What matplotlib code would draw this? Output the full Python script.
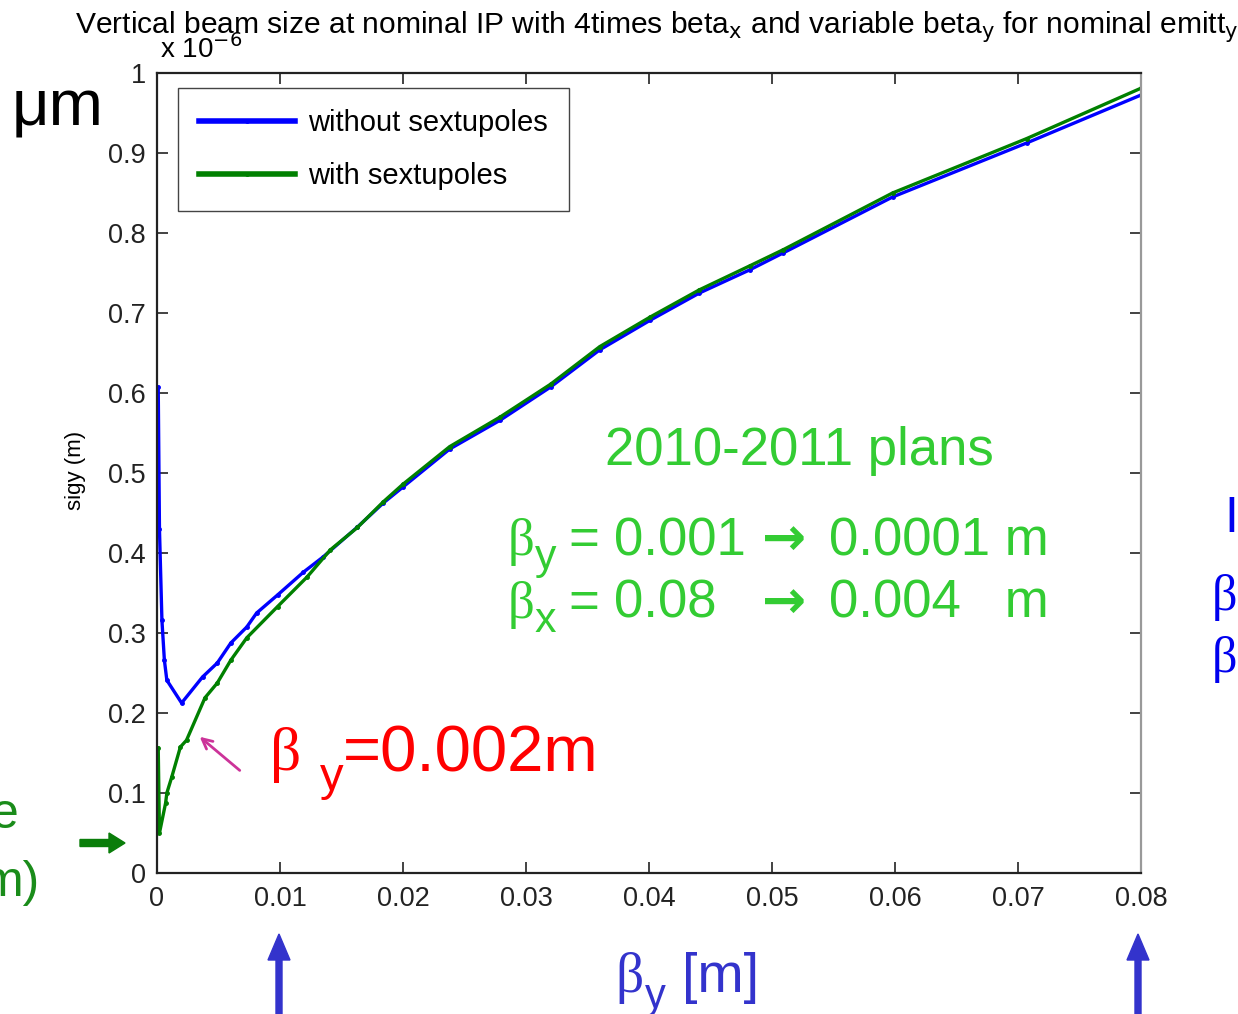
import matplotlib.pyplot as plt

plt.rcParams['font.family'] = ['Liberation Sans', 'DejaVu Sans']

# data (sigy in units of 1e-6 m)
beta_blue = [0.0001, 0.0002, 0.0004, 0.0006, 0.0008, 0.002, 0.0037, 0.0049,
             0.006, 0.0073, 0.0081, 0.0098, 0.0119, 0.0135, 0.0163, 0.0184,
             0.02, 0.0238, 0.0279, 0.032, 0.036, 0.0401, 0.0441, 0.0482,
             0.0509, 0.0598, 0.0707, 0.08]
sigy_blue = [0.607, 0.43, 0.316, 0.266, 0.241, 0.2125, 0.245, 0.2625,
             0.2875, 0.3075, 0.325, 0.3475, 0.376, 0.395, 0.4325, 0.4625,
             0.4825, 0.53, 0.566, 0.6075, 0.654, 0.691, 0.725, 0.754,
             0.775, 0.845, 0.9125, 0.9725]

beta_green = [0.0001, 0.0002, 0.0007, 0.0008, 0.0012, 0.0019, 0.0024, 0.0039,
              0.0049, 0.006, 0.0073, 0.0098, 0.0122, 0.0141, 0.0163, 0.0184,
              0.02, 0.0238, 0.0279, 0.032, 0.036, 0.0401, 0.0441, 0.0482,
              0.0509, 0.0598, 0.0707, 0.08]
sigy_green = [0.156, 0.05, 0.0875, 0.1, 0.12, 0.1575, 0.166, 0.219,
              0.2375, 0.266, 0.294, 0.333, 0.37, 0.404, 0.432, 0.464,
              0.486, 0.533, 0.57, 0.611, 0.658, 0.695, 0.729, 0.759,
              0.779, 0.85, 0.918, 0.981]

xticks = [0, 0.01, 0.02, 0.03, 0.04, 0.05, 0.06, 0.07, 0.08]
xticklabels = ['0', '0.01', '0.02', '0.03', '0.04', '0.05', '0.06', '0.07', '0.08']
yticks = [0, 0.1, 0.2, 0.3, 0.4, 0.5, 0.6, 0.7, 0.8, 0.9, 1]
yticklabels = ['0', '0.1', '0.2', '0.3', '0.4', '0.5', '0.6', '0.7', '0.8', '0.9', '1']

W, H = 1238, 1014


def px(x, y):
    return x / W, 1 - y / H


fig = plt.figure(figsize=(W / 100, H / 100), dpi=100)
ax = fig.add_axes([157 / W, 141 / H, 984 / W, 800 / H])

ax.plot(beta_blue, sigy_blue, color='#0000ff', lw=2.4, marker='.', ms=5,
        label='without sextupoles')
ax.plot(beta_green, sigy_green, color='#008000', lw=2.4, marker='.', ms=5,
        label='with sextupoles')

ax.set_xlim(0, 0.08)
ax.set_ylim(0, 1)
ax.set_xticks(xticks)
ax.set_xticklabels(xticklabels)
ax.set_yticks(yticks)
ax.set_yticklabels(yticklabels)
ax.tick_params(direction='in', length=8, width=1.2, labelsize=19.5,
               top=True, right=True, colors='#222222')
ax.tick_params(axis='x', pad=9)
ax.tick_params(axis='y', pad=8)
for s in ['left', 'top', 'bottom']:
    ax.spines[s].set_linewidth(1.6)
    ax.spines[s].set_color('#222222')
ax.spines['right'].set_color('#999999')
ax.spines['right'].set_linewidth(1.6)

leg = ax.legend(loc='upper left', bbox_to_anchor=(0.0213, 0.981),
                borderaxespad=0, fontsize=21, handlelength=3.3,
                handletextpad=0.45, labelspacing=0.85, borderpad=0.72,
                fancybox=False, framealpha=1, edgecolor='#444444')
for line in leg.get_lines():
    line.set_linewidth(4)

# title and axis texts
fig.text(*px(75, 33), r'Vertical beam size at nominal IP with 4times beta$_{\mathrm{x}}$'
         r' and variable beta$_{\mathrm{y}}$ for nominal emitt$_{\mathrm{y}}$',
         fontsize=21.6, va='baseline', ha='left')
fig.text(*px(160, 58), r'x 10$^{-6}$', fontsize=20, va='baseline', ha='left')
fig.text(*px(12, 126), 'μm', fontsize=47, va='baseline', ha='left')
fig.text(*px(76, 470), 'sigy (m)', fontsize=16, rotation=90,
         va='center', ha='center')

# green plans annotation
green = '#33cc33'
fig.text(*px(799, 465), '2010-2011 plans', fontsize=38, color=green,
         ha='center', va='baseline')
for row_y, sub, v1, v2 in [(555, 'y', '0.001', '0.0001 m'),
                           (618, 'x', '0.08', '0.004   m')]:
    fig.text(*px(508, row_y), 'β', fontsize=38, color=green,
             family='Liberation Serif', va='baseline')
    fig.text(*px(535, row_y + 14), sub, fontsize=31, color=green, va='baseline')
    fig.text(*px(568, row_y), '=', fontsize=38, color=green, va='baseline')
    fig.text(*px(614, row_y), v1, fontsize=38, color=green, va='baseline')
    fig.text(*px(762, row_y), '→', fontsize=38, color=green, va='baseline',
             family='DejaVu Sans', weight='bold')
    fig.text(*px(829, row_y), v2, fontsize=38, color=green, va='baseline')

# red beta_y annotation with arrow
fig.text(*px(270, 770), 'β', fontsize=44, color='#ff0000',
         family='Liberation Serif', va='baseline')
fig.text(*px(320, 790), 'y', fontsize=34, color='#ff0000', va='baseline')
fig.text(*px(343, 772), '=0.002m', fontsize=47, color='#ff0000', va='baseline')
ax.annotate('', xy=(0.0033, 0.1725), xytext=(0.0069, 0.126),
            arrowprops=dict(arrowstyle='->', color='#cc3399', lw=2,
                            mutation_scale=18))

# left side clipped annotation
dgreen = '#1a8c1a'
fig.text(*px(19, 828), 'e', fontsize=36, color=dgreen, ha='right', va='baseline')
fig.text(*px(40, 896), 'm)', fontsize=36, color=dgreen, ha='right', va='baseline')
fig.patches.append(plt.matplotlib.patches.FancyArrow(
    80 / W, 1 - 843 / H, 45 / W, 0, width=7 / H, head_width=20 / H,
    head_length=16 / W, length_includes_head=True, color='#0a7d0a',
    transform=fig.transFigure, figure=fig))

# right side clipped annotation
rblue = '#0000ee'
fig.text(*px(1224, 532), 'I', fontsize=36, color=rblue, va='baseline')
fig.text(*px(1212, 610), 'β', fontsize=36, color=rblue, va='baseline',
         family='Liberation Serif')
fig.text(*px(1212, 672), 'β', fontsize=36, color=rblue, va='baseline',
         family='Liberation Serif')

# bottom axis label and arrows
bblue = '#3333cc'
fig.text(*px(615, 992), 'β', fontsize=40, color=bblue, va='baseline',
         family='Liberation Serif')
fig.text(*px(645, 1008), 'y', fontsize=30, color=bblue, va='baseline')
fig.text(*px(682, 992), '[m]', fontsize=40, color=bblue, va='baseline')
for xa in [279, 1138]:
    fig.patches.append(plt.matplotlib.patches.FancyArrow(
        xa / W, 0, 0, 80 / H, width=6 / W, head_width=22 / W,
        head_length=26 / H, length_includes_head=True, color=bblue,
        transform=fig.transFigure, figure=fig))

fig.savefig('out.png', dpi=100)
